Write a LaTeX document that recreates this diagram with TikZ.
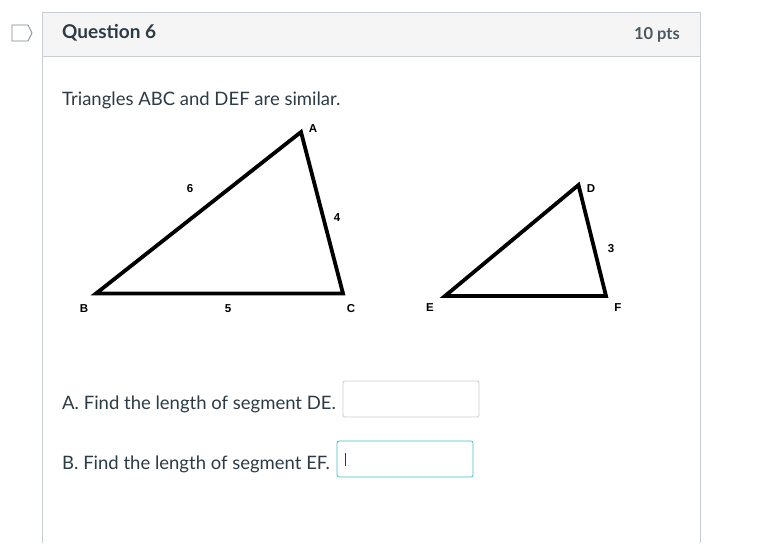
\documentclass[tikz,border=0pt]{standalone}
\usepackage{fontspec}
\setmainfont{Lato}
\newfontfamily\labelfont{Liberation Sans}
\definecolor{ink}{HTML}{2D3B45}
\definecolor{rule}{HTML}{C7CDD1}
\definecolor{head}{HTML}{F5F5F5}
\definecolor{focus}{HTML}{3FBFCC}
\begin{document}
\begin{tikzpicture}[x=1pt,y=-1pt]
\tikzset{every node/.style={inner sep=0pt,text=ink}}
\tikzset{body/.style={anchor=base west,font=\fontsize{18.5}{22}\selectfont}}
\tikzset{tri/.style={line width=3.8pt,line join=miter}}
\tikzset{lbl/.style={font=\labelfont\bfseries\fontsize{11.5}{13}\selectfont,text=black}}
\tikzset{answer/.style={draw=rule,rounded corners=2pt,line width=0.8pt}}
\useasboundingbox (0,0) rectangle (765,543);
% card
\fill[white] (0,0) rectangle (765,543);
\filldraw[fill=head,draw=rule,line width=0.8pt] (42,12) rectangle (700,56);
\draw[rule,line width=0.8pt] (42,56) -- (42,543) (700,56) -- (700,543);
\draw[ink!60,line width=0.7pt] (12,25) -- (28,25) -- (32,33) -- (28,41) -- (12,41) -- cycle;
\node[anchor=base west,font=\fontsize{19}{22}\selectfont\bfseries] (title) at (62,39) {Question 6};
\node[anchor=base east,font=\fontsize{16.5}{20}\selectfont\bfseries,text=ink!85] (pts) at (680,40) {10 pts};
\node[body] (intro) at (62,105) {Triangles ABC and DEF are similar.};
% triangle ABC
\coordinate (A) at (301,132);
\coordinate (B) at (96,293.5);
\coordinate (C) at (343,293.5);
\draw[tri] (A) -- (B) -- (C) -- cycle;
\node[lbl] (lA) at (313,129) {A};
\node[lbl] (lB) at (84,309) {B};
\node[lbl] (lC) at (351,309) {C};
\node[lbl] (ab) at (190,189) {6};
\node[lbl] (ac) at (337,218) {4};
\node[lbl] (bc) at (228,309) {5};
% triangle DEF
\coordinate (D) at (578.5,185);
\coordinate (E) at (445,296);
\coordinate (F) at (606,296);
\draw[tri] (D) -- (E) -- (F) -- cycle;
\node[lbl] (lD) at (591,189) {D};
\node[lbl] (lE) at (430,308) {E};
\node[lbl] (lF) at (618,308) {F};
\node[lbl] (df) at (611,249) {3};
% questions
\node[body] (qa) at (62,409) {A. Find the length of segment DE.};
\draw[answer] (343,381) rectangle (479,417);
\node[body] (qb) at (62,469) {B. Find the length of segment EF.};
\draw[answer,draw=focus] (337,441) rectangle (473,477);
\draw[ink,line width=0.9pt] (345.5,453) -- (345.5,466);
\end{tikzpicture}
\end{document}
